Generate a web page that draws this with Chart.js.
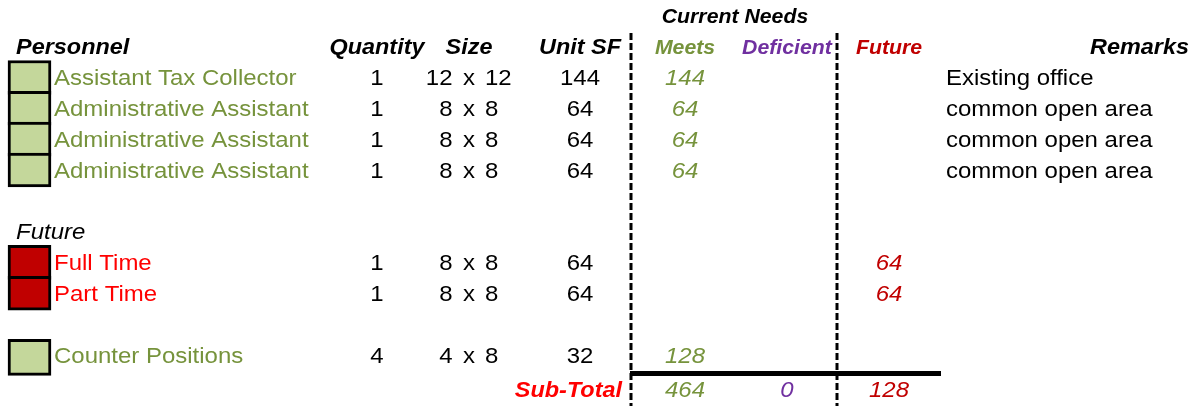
<!DOCTYPE html>
<html>
<head>
<meta charset="utf-8">
<title>Space Needs - Tax Collector</title>
<script src="https://cdn.jsdelivr.net/npm/chart.js@4.4.1/dist/chart.umd.min.js"></script>
<style>
    html, body { margin: 0; padding: 0; background: #ffffff; }
    #wrap { position: relative; width: 1192px; height: 406px; }
</style>
</head>
<body>
<div id="wrap"><canvas id="needs-chart"></canvas></div>
<script>
// -------------------------------------------------------------
// DATA
// -------------------------------------------------------------
const personnel = ['Assistant Tax Collector', 'Administrative Assistant', 'Administrative Assistant',
    'Administrative Assistant', 'Full Time', 'Part Time', 'Counter Positions'];
const status = ['meets', 'meets', 'meets', 'meets', 'future', 'future', 'meets'];
const quantity = [1, 1, 1, 1, 1, 1, 4];
const sizeW = [12, 8, 8, 8, 8, 8, 4];
const sizeL = [12, 8, 8, 8, 8, 8, 8];
const unitSF = [144, 64, 64, 64, 64, 64, 32];
const meets = [144, 64, 64, 64, null, null, 128];
const deficient = [null, null, null, null, null, null, null];
const future = [null, null, null, null, 64, 64, null];
const remarks = ['Existing office', 'common open area', 'common open area', 'common open area', '', '', ''];
const subTotal = [464, 0, 128]; // meets, deficient, future

const columnHeaders = ['Personnel', 'Quantity', 'Size', 'Unit SF', 'Remarks'];
const needsHeaders = ['Meets', 'Deficient', 'Future'];

// -------------------------------------------------------------
// LAYOUT (sheet rows / column anchors, in scale units)
// -------------------------------------------------------------
const ROW_OF = [2, 3, 4, 5, 8, 9, 11];
const ROW_TITLE = 0, ROW_HEAD = 1, ROW_FUTURE = 7, ROW_TOTAL = 12.1;
const COL = {
    left: 16, name: 54, qty: 377, sizeW: 452.5, sizeX: 469, sizeL: 485,
    unit: 580, meets: 685, deficient: 787, future: 889, remarksRight: 1189, remarks: 946,
    title: 735, totalRight: 622, boxL: 8, boxR: 51
};
const DIVIDERS = [631, 837];
const TOTAL_LINE = { from: 630, to: 941, row: 11.6 };

const GREEN = '#76933C', GREEN_BOX = '#C4D79B', RED = '#FF0000', DARK_RED = '#C00000', PURPLE = '#7030A0';
const FONT = '"Liberation Sans", Arial, sans-serif';
const SX = 1.09; // sheet text is a bit wider than plain Arial

// -------------------------------------------------------------
// TEXT PLUGIN
// -------------------------------------------------------------
const sheetText = {
    id: 'sheetText',
    afterDatasetsDraw(chart) {
        const ctx = chart.ctx;
        const xs = chart.scales.x, ys = chart.scales.y;

        function put(str, col, row, align, size, style, color) {
            if (str === null || str === undefined || str === '') return;
            const x = xs.getPixelForValue(col);
            const y = ys.getPixelForValue(row) + size * 0.358;
            ctx.save();
            ctx.translate(x, y);
            ctx.scale(SX, 1);
            ctx.font = style + ' ' + size + 'px ' + FONT;
            ctx.fillStyle = color;
            ctx.textAlign = align;
            ctx.textBaseline = 'alphabetic';
            ctx.fillText(String(str), 0, 0);
            ctx.restore();
        }

        // headers
        put('Current Needs', COL.title, ROW_TITLE, 'center', 19.5, 'italic bold', '#000');
        put(columnHeaders[0], COL.left, ROW_HEAD, 'left', 21.5, 'italic bold', '#000');
        put(columnHeaders[1], COL.qty, ROW_HEAD, 'center', 21.5, 'italic bold', '#000');
        put(columnHeaders[2], COL.sizeX, ROW_HEAD, 'center', 21.5, 'italic bold', '#000');
        put(columnHeaders[3], COL.unit, ROW_HEAD, 'center', 21.5, 'italic bold', '#000');
        put(columnHeaders[4], COL.remarksRight, ROW_HEAD, 'right', 21.5, 'italic bold', '#000');
        put(needsHeaders[0], COL.meets, ROW_HEAD, 'center', 19.5, 'italic bold', GREEN);
        put(needsHeaders[1], COL.deficient, ROW_HEAD, 'center', 19.5, 'italic bold', PURPLE);
        put(needsHeaders[2], COL.future, ROW_HEAD, 'center', 19.5, 'italic bold', DARK_RED);

        put('Future', COL.left, ROW_FUTURE, 'left', 22, 'italic', '#000');

        // body rows
        personnel.forEach((name, i) => {
            const r = ROW_OF[i];
            put(name, COL.name, r, 'left', 22, 'normal', status[i] === 'future' ? RED : GREEN);
            put(quantity[i], COL.qty, r, 'center', 22, 'normal', '#000');
            put(sizeW[i], COL.sizeW, r, 'right', 22, 'normal', '#000');
            put('x', COL.sizeX, r, 'center', 22, 'normal', '#000');
            put(sizeL[i], COL.sizeL, r, 'left', 22, 'normal', '#000');
            put(unitSF[i], COL.unit, r, 'center', 22, 'normal', '#000');
            put(meets[i], COL.meets, r, 'center', 22, 'italic', GREEN);
            put(deficient[i], COL.deficient, r, 'center', 22, 'italic', PURPLE);
            put(future[i], COL.future, r, 'center', 22, 'italic', DARK_RED);
            put(remarks[i], COL.remarks, r, 'left', 22, 'normal', '#000');
        });

        // totals
        put('Sub-Total', COL.totalRight, ROW_TOTAL, 'right', 21.5, 'italic bold', RED);
        put(subTotal[0], COL.meets, ROW_TOTAL, 'center', 22, 'italic', GREEN);
        put(subTotal[1], COL.deficient, ROW_TOTAL, 'center', 22, 'italic', PURPLE);
        put(subTotal[2], COL.future, ROW_TOTAL, 'center', 22, 'italic', DARK_RED);
    }
};

// -------------------------------------------------------------
// CHART
// -------------------------------------------------------------
const yMin = -0.5125, yMax = 12.656;

// stacked staff boxes share borders; the lone counter box sits a bit taller
const staffIdx = [0, 1, 2, 3, 4, 5], counterIdx = [6];
function boxSet(idx, thickness, shift) {
    return {
        type: 'bar',
        indexAxis: 'y',
        data: idx.map(i => ({ y: ROW_OF[i] + shift, x: [COL.boxL, COL.boxR] })),
        backgroundColor: idx.map(i => status[i] === 'future' ? DARK_RED : GREEN_BOX),
        borderColor: '#000',
        borderWidth: 3,
        borderSkipped: false,
        barThickness: thickness,
        grouped: false
    };
}

const dividerSets = DIVIDERS.map(xv => ({
    type: 'scatter',
    data: [{ x: xv, y: 0.56 }, { x: xv, y: yMax }],
    showLine: true,
    borderColor: '#000',
    borderWidth: 3,
    borderDash: [7, 3],
    pointRadius: 0,
    clip: false
}));

new Chart(document.getElementById('needs-chart').getContext('2d'), {
    type: 'scatter',
    data: {
        datasets: [
            boxSet(staffIdx, 34, 0),
            boxSet(counterIdx, 36, 0.08),
            ...dividerSets,
            {
                type: 'scatter',
                data: [{ x: TOTAL_LINE.from, y: TOTAL_LINE.row }, { x: TOTAL_LINE.to, y: TOTAL_LINE.row }],
                showLine: true,
                borderColor: '#000',
                borderWidth: 5,
                pointRadius: 0,
                clip: false
            }
        ]
    },
    options: {
        responsive: true,
        maintainAspectRatio: false,
        animation: false,
        events: [],
        layout: { padding: 0, autoPadding: false },
        plugins: { legend: { display: false }, tooltip: { enabled: false } },
        scales: {
            x: { type: 'linear', min: 0, max: 1192, offset: false, display: false },
            y: { type: 'linear', min: yMin, max: yMax, reverse: true, offset: false, display: false }
        }
    },
    plugins: [sheetText]
});
</script>
</body>
</html>
